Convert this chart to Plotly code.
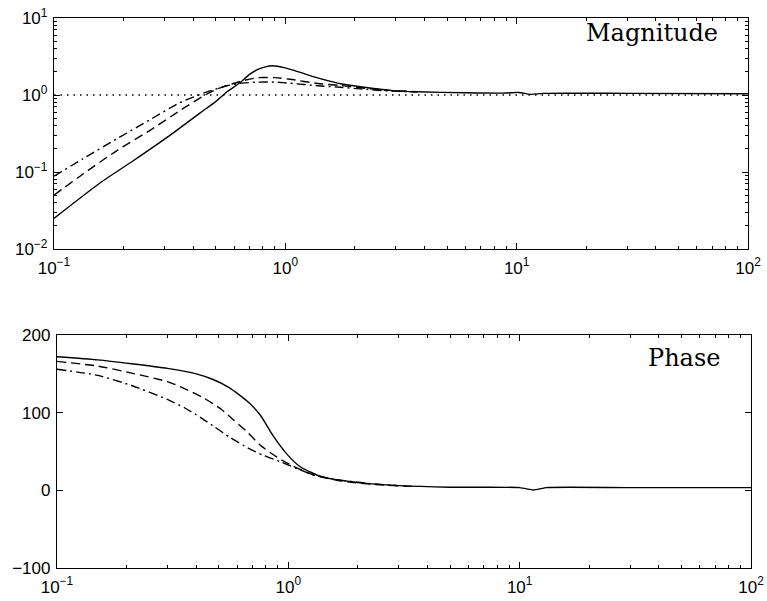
import plotly.graph_objects as go

# ---- data ----
f_mag_solid = [0.1, 0.158, 0.22, 0.327, 0.43, 0.5, 0.56, 0.638, 0.70, 0.757, 0.82, 0.88, 1.0, 1.15,
               1.32, 1.57, 1.73, 2.11, 2.85, 3.7, 6.0, 9.0, 10.2, 11.5, 13.0, 30.0, 100.0]
mag_solid = [0.025, 0.072, 0.14, 0.32, 0.59, 0.82, 1.1, 1.45, 1.85, 2.13, 2.32, 2.4, 2.25, 1.98,
             1.73, 1.5, 1.4, 1.28, 1.15, 1.1, 1.07, 1.06, 1.08, 1.02, 1.05, 1.05, 1.04]

f_mag_dash = [0.1, 0.134, 0.187, 0.261, 0.351, 0.45, 0.508, 0.638, 0.76, 0.9, 1.05, 1.38, 1.73, 2.1, 2.8, 3.7]
mag_dash = [0.05, 0.095, 0.19, 0.35, 0.63, 1.0, 1.2, 1.5, 1.68, 1.68, 1.6, 1.41, 1.33, 1.24, 1.15, 1.1]

f_mag_dashdot = [0.1, 0.134, 0.187, 0.261, 0.351, 0.459, 0.56, 0.638, 0.76, 0.9, 1.05, 1.38, 1.73, 2.1, 2.8, 3.7]
mag_dashdot = [0.088, 0.15, 0.27, 0.48, 0.8, 1.1, 1.32, 1.42, 1.47, 1.47, 1.42, 1.32, 1.26, 1.2, 1.13, 1.1]

f_ref = [0.1, 100.0]
mag_ref = [1.0, 1.0]

f_ph_solid = [0.1, 0.15, 0.21, 0.3, 0.4, 0.47, 0.55, 0.62, 0.68, 0.76, 0.86, 0.99, 1.13, 1.38, 2.0,
              3.0, 5.0, 10.0, 11.5, 13.0, 30.0, 100.0]
ph_solid = [172, 168, 163, 157, 150, 143, 133, 122, 112, 96, 70, 46, 30, 18, 10,
            6, 4, 3.5, 0.5, 3.5, 3.5, 3.5]

f_ph_dash = [0.1, 0.15, 0.21, 0.3, 0.35, 0.43, 0.51, 0.578, 0.665, 0.757, 0.89, 1.05, 1.28, 1.7, 2.5, 3.5]
ph_dash = [166, 160, 151, 140, 132, 119, 105, 91, 75, 58, 43, 31, 20, 12, 7, 5]

f_ph_dashdot = [0.1, 0.15, 0.21, 0.3, 0.357, 0.416, 0.473, 0.56, 0.665, 0.78, 0.92, 1.09, 1.28, 1.6, 2.2, 3.0]
ph_dashdot = [156, 148, 135, 117, 106, 94, 83, 68, 55, 45, 37, 28, 20, 14, 9, 6]

x_tickvals = [0.1, 1, 10, 100]
x_ticktext = ["10<sup>−1</sup>", "10<sup>0</sup>", "10<sup>1</sup>", "10<sup>2</sup>"]
mag_tickvals = [0.01, 0.1, 1, 10]
mag_ticktext = ["10<sup>−2</sup>", "10<sup>−1</sup>", "10<sup>0</sup>", "10<sup>1</sup>"]
ph_tickvals = [-100, 0, 100, 200]
ph_ticktext = ["−100", "0", "100", "200"]

W, H = 767, 601
fig = go.Figure()

LW = 1.4
def add(x, y, dash, xa, ya, width=LW):
    fig.add_trace(go.Scatter(x=x, y=y, mode="lines", xaxis=xa, yaxis=ya,
                             line=dict(color="black", width=width, dash=dash, shape="spline", smoothing=0.6),
                             showlegend=False, hoverinfo="skip"))

add(f_ref, mag_ref, "1.5px,5px", "x", "y", 1.6)
add(f_mag_dashdot, mag_dashdot, "9px,4px,2px,4px", "x", "y")
add(f_mag_dash, mag_dash, "9px,5px", "x", "y")
add(f_mag_solid, mag_solid, "solid", "x", "y")

add(f_ph_dashdot, ph_dashdot, "9px,4px,2px,4px", "x2", "y2")
add(f_ph_dash, ph_dash, "9px,5px", "x2", "y2")
add(f_ph_solid, ph_solid, "solid", "x2", "y2")

tickfont = dict(family="Liberation Sans, Arial, sans-serif", size=17, color="black")
common = dict(showline=True, linecolor="black", linewidth=1.3, mirror="ticks", ticks="inside",
              ticklen=6, tickwidth=1, tickcolor="black", showgrid=False, zeroline=False,
              tickfont=tickfont, automargin=False)
minor_log = dict(ticks="inside", ticklen=3, tickwidth=1, tickcolor="black", dtick="D1", showgrid=False)

fig.update_layout(
    width=W, height=H, margin=dict(l=0, r=0, t=0, b=0),
    paper_bgcolor="white", plot_bgcolor="white",
    xaxis=dict(type="log", range=[-1, 2], domain=[54 / W, 748 / W], anchor="y",
               tickmode="array", tickvals=x_tickvals, ticktext=x_ticktext, minor=minor_log,
               ticklabelstandoff=3, **common),
    yaxis=dict(type="log", range=[-2, 1], domain=[1 - 249 / H, 1 - 18 / H], anchor="x",
               tickmode="array", tickvals=mag_tickvals, ticktext=mag_ticktext, minor=minor_log,
               ticklabelstandoff=2, **common),
    xaxis2=dict(type="log", range=[-1, 2], domain=[57 / W, 751 / W], anchor="y2",
                tickmode="array", tickvals=x_tickvals, ticktext=x_ticktext, minor=minor_log,
                ticklabelstandoff=3, **common),
    yaxis2=dict(type="linear", range=[-100, 200], domain=[1 - 568 / H, 1 - 335 / H], anchor="x2",
                tickmode="array", tickvals=ph_tickvals, ticktext=ph_ticktext,
                ticklabelstandoff=2, **common),
    annotations=[
        dict(text="Magnitude", xref="paper", yref="paper", x=720 / W, y=1 - 33 / H,
             xanchor="right", yanchor="middle", showarrow=False,
             font=dict(family="DejaVu Serif, serif", size=24, color="black")),
        dict(text="Phase", xref="paper", yref="paper", x=722 / W, y=1 - 358 / H,
             xanchor="right", yanchor="middle", showarrow=False,
             font=dict(family="DejaVu Serif, serif", size=24, color="black")),
    ],
)

fig.write_html("out.html")
